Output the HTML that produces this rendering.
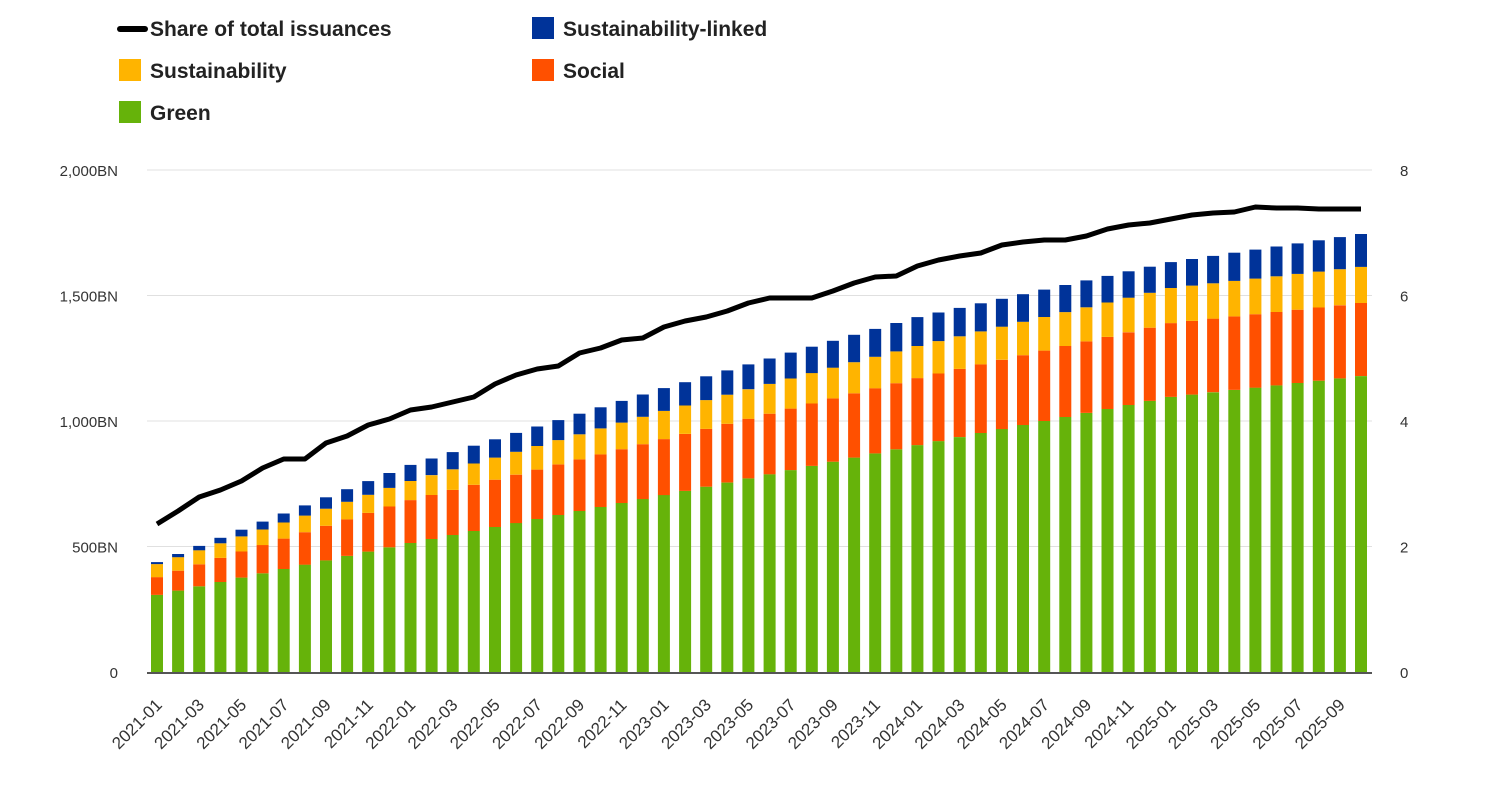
<!DOCTYPE html>
<html><head><meta charset="utf-8"><style>
body{margin:0;background:#fff;font-family:"Liberation Sans","DejaVu Sans",sans-serif;}
</style></head><body>
<svg id="c" width="1486" height="807" xmlns="http://www.w3.org/2000/svg" font-family="Liberation Sans, DejaVu Sans, sans-serif"></svg>
<script>
const s=document.getElementById('c');let h='';
h+='<line x1="120" y1="29" x2="145" y2="29" stroke="#000" stroke-width="6" stroke-linecap="round"/>';
h+='<text x="150" y="36" font-size="21" font-weight="bold" fill="#222">Share of total issuances</text>';
h+='<rect x="532" y="17" width="22" height="22" fill="#003399"/><text x="563" y="36" font-size="21" font-weight="bold" fill="#222">Sustainability-linked</text>';
h+='<rect x="119" y="59" width="22" height="22" fill="#ffb400"/><text x="150" y="78" font-size="21" font-weight="bold" fill="#222">Sustainability</text>';
h+='<rect x="532" y="59" width="22" height="22" fill="#ff5000"/><text x="563" y="78" font-size="21" font-weight="bold" fill="#222">Social</text>';
h+='<rect x="119" y="101" width="22" height="22" fill="#66b30a"/><text x="150" y="120" font-size="21" font-weight="bold" fill="#222">Green</text>';
const y0=672,ppu=502/2000;
[0,500,1000,1500,2000].forEach((v,i)=>{const y=y0-v*ppu;
 if(i>0)h+=`<line x1="147" y1="${y}" x2="1372" y2="${y}" stroke="#e0e0e0" stroke-width="1"/>`;
 const lab=v==0?'0':v.toLocaleString('en-US')+'BN';
 h+=`<text x="118" y="${y+6}" font-size="15" fill="#333" text-anchor="end">${lab}</text>`;
 h+=`<text x="1400" y="${y+6}" font-size="15" fill="#333">${i*2}</text>`;});
const keys=[0,12,24,36,48,57];
const G=[307,514,705,904,1096,1179],S=[378,685,928,1171,1390,1470],U=[430,761,1040,1299,1530,1614],L=[438,825,1131,1414,1633,1745];
function ip(a,i){for(let k=0;k<keys.length-1;k++){if(i<=keys[k+1]){const t=(i-keys[k])/(keys[k+1]-keys[k]);return a[k]+(a[k+1]-a[k])*t;}}}
const ly=[524,511,497,490,481,468,459,459,443,436,425,419,410,407,402,397,384,375,369,366,353,348,340,338,327,321,317,311,303,298,298,298,291,283,277,276,266,260,256,253,245,242,240,240,236,229,225,223,219,215,213,212,207,208,208,209,209,209];
const n=58,x0=157,dx=(1361-157)/57,bw=12;let pts=[];
for(let i=0;i<n;i++){const x=x0+i*dx;
 const vals=[[ip(G,i),'#66b30a'],[ip(S,i),'#ff5000'],[ip(U,i),'#ffb400'],[ip(L,i),'#003399']];
 let prev=0;vals.forEach(([v,c])=>{const yt=y0-v*ppu,yb=y0-prev*ppu;h+=`<rect x="${(x-bw/2).toFixed(1)}" y="${yt.toFixed(1)}" width="${bw}" height="${(yb-yt).toFixed(1)}" fill="${c}"/>`;prev=v;});
 pts.push(x.toFixed(1)+','+ly[i]);
 if(i%2==0){const yr=2021+Math.floor(i/12),m=String(i%12+1).padStart(2,'0');
  h+=`<text transform="translate(${x+6},706) rotate(-45)" font-size="17" fill="#333" text-anchor="end">${yr}-${m}</text>`;}
}
h+=`<line x1="147" y1="673" x2="1372" y2="673" stroke="#555" stroke-width="2"/>`;
h+=`<polyline points="${pts.join(' ')}" fill="none" stroke="#000" stroke-width="5" stroke-linejoin="round"/>`;
s.innerHTML=h;
</script>
</body></html>
